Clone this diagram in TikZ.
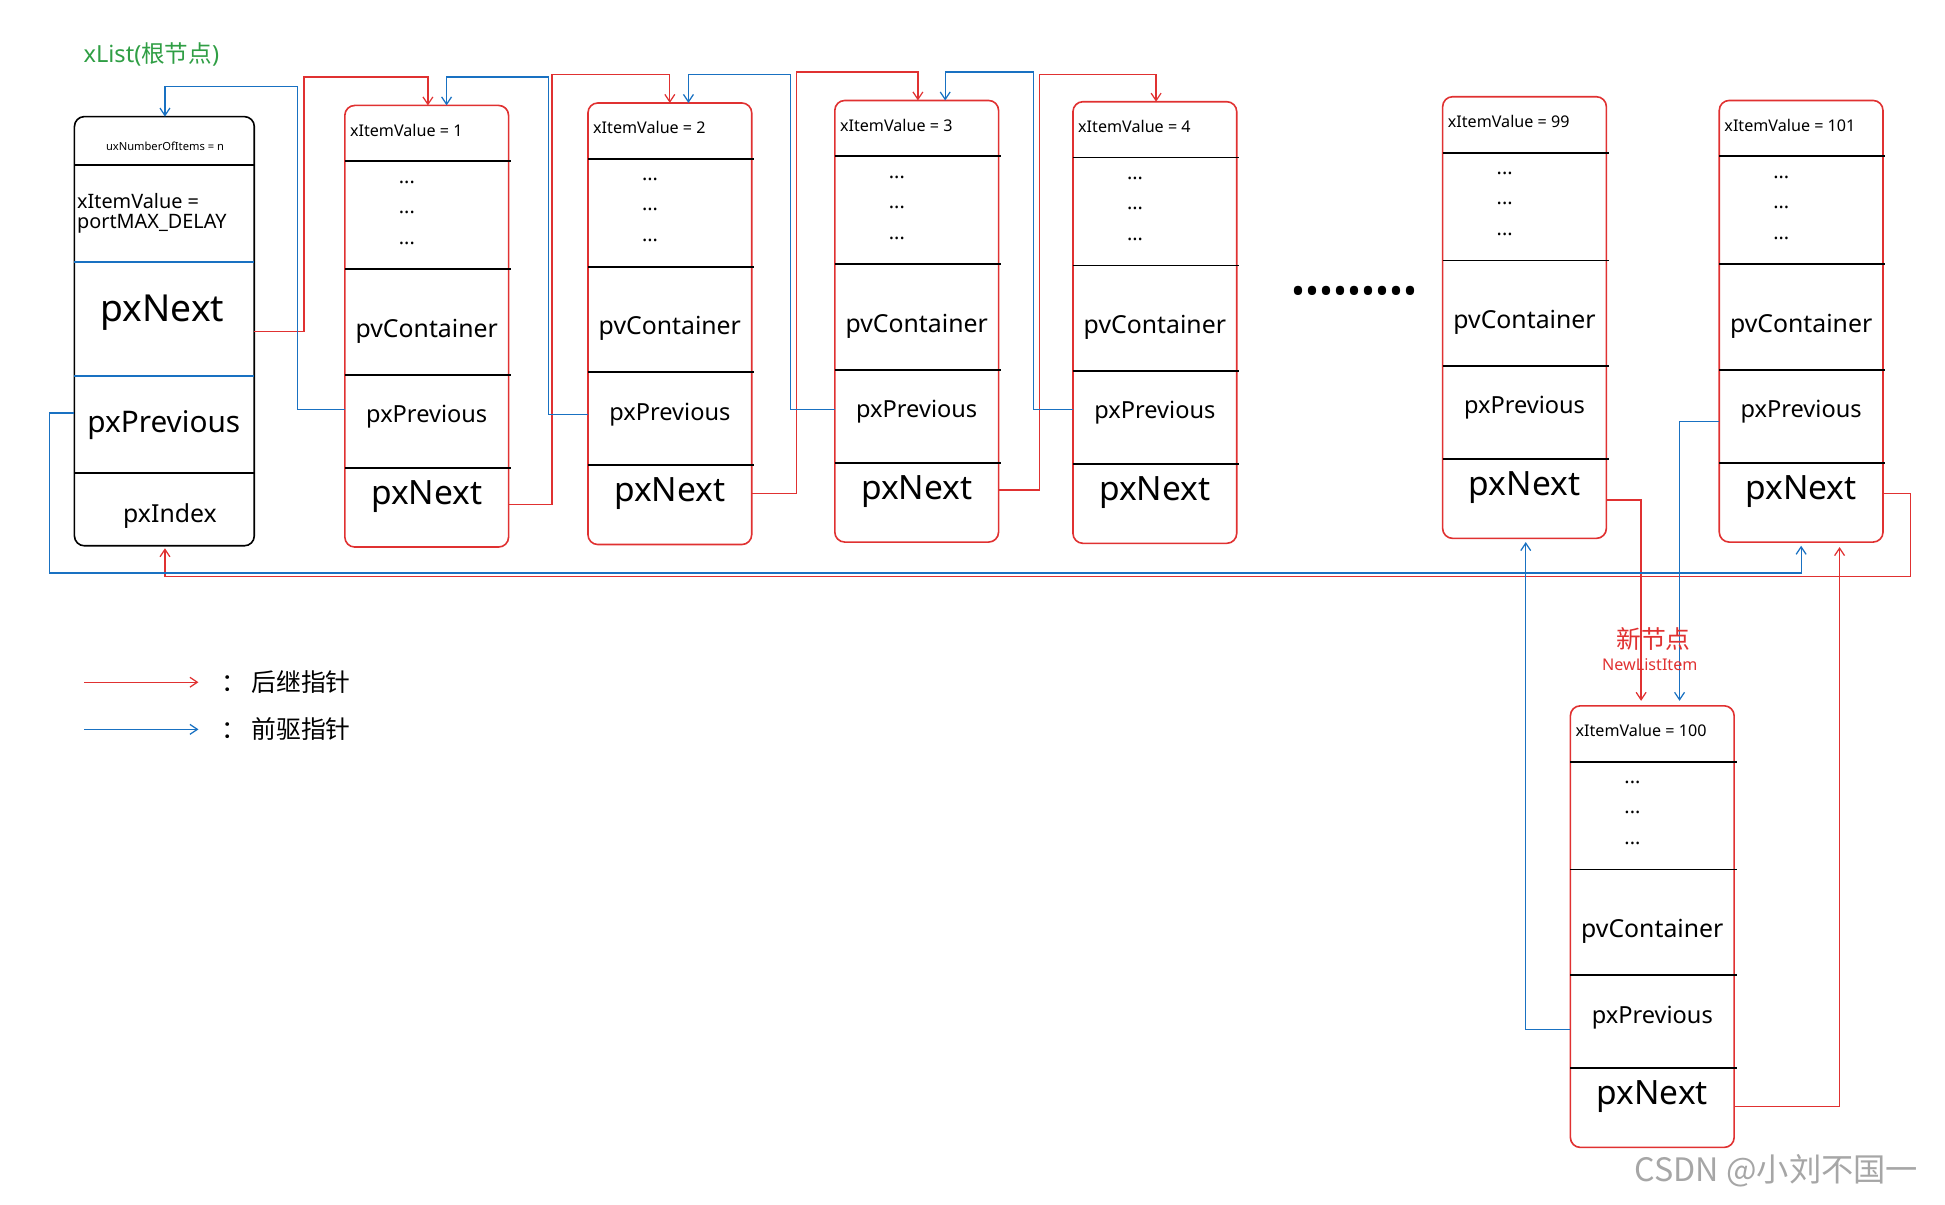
\documentclass[tikz,border=0pt]{standalone}
\usepackage{fontspec}
\setmainfont{Noto Sans}
\newfontfamily\cjk{Noto Sans CJK SC}
\definecolor{rd}{HTML}{E03131}
\definecolor{bl}{HTML}{1971C2}
\definecolor{gr}{HTML}{2F9E44}
\usetikzlibrary{arrows.meta}
\tikzset{
 box/.style={draw=rd,line width=1.3pt,rounded corners=8pt},
 div/.style={line width=1.5pt,black},
 nx/.style={draw=rd,line width=1pt,-{Straight Barb[length=6pt,width=8pt]}},
 pv/.style={draw=bl,line width=1pt,-{Straight Barb[length=6pt,width=8pt]}},
 t/.style={inner sep=0pt,font=\fontsize{#1}{#1}\selectfont},
}
\newcommand{\itembox}[4]{%
 \draw[box] (#2,#3) rectangle ++(132,356);
 \foreach \d in {45,132,217,292}{\draw[div] (#2,#3+\d) -- ++(134,0);}
 \node[t=13,anchor=west] (#1v) at (#2+4,#3+20) {xItemValue = #4};
 \foreach \d in {62,86,111}{\node[t=16] at (#2+50,#3+\d) {\textbf{...}};}
 \node[t=20] (#1c) at (#2+66,#3+182) {pvContainer};
 \node[t=19] (#1p) at (#2+66,#3+251) {pxPrevious};
 \node[t=27] (#1n) at (#2+66,#3+315) {pxNext};
}
\begin{document}
\begin{tikzpicture}[x=1pt,y=-1pt]
\useasboundingbox (0,0) rectangle (1568,971);
% root
\draw[line width=1.3pt,rounded corners=8pt] (60,94) rectangle (205,440);
\draw[div] (60,133)--(205,133); \draw[bl,line width=1.5pt] (60,211)--(205,211);
\draw[bl,line width=1.5pt] (60,303)--(205,303); \draw[div] (60,381)--(205,381);
\node[t=9] (ru) at (133,118) {uxNumberOfItems = n};
\node[t=16,align=left,anchor=west] (rv) at (62,172) {xItemValue =\\portMAX\_DELAY};
\node[t=30] (rn) at (131,252) {pxNext};
\node[t=24] (rp) at (132,343) {pxPrevious};
\node[t=20] (ri) at (137,416) {pxIndex};
\node[t=19,text=gr] (xl) at (122,44) {xList({\cjk 根节点})};
\itembox{a}{278}{85}{1}
\itembox{b}{474}{83}{2}
\itembox{c}{673}{81}{3}
\itembox{d}{865}{82}{4}
\itembox{e}{1163}{78}{99}
\itembox{f}{1386}{81}{101}
\itembox{g}{1266}{569}{100}
\node[t=30] (dots) at (1092,238) {\textbf{•••••••••}};
% next pointers
\draw[nx] (205,267) -| (245,62) -| (345,85);
\draw[nx] (410,407) -| (445,60) -| (540,83);
\draw[nx] (606,398) -| (642,58) -| (740,81);
\draw[nx] (805,395) -| (838,60) -| (932,82);
\draw[nx] (1295,403) -| (1323,565);
\draw[nx] (1398,892) -| (1483,441);
\draw[nx] (1518,398) -| (1540,465) -| (133,442);
% prev pointers
\draw[pv] (278,330) -| (240,70) -| (133,94);
\draw[pv] (474,334) -| (442,62) -| (360,85);
\draw[pv] (673,330) -| (637,60) -| (555,83);
\draw[pv] (865,330) -| (833,58) -| (762,81);
\draw[pv] (1386,340) -| (1354,565);
\draw[pv] (1266,830) -| (1230,437);
\draw[pv] (60,333) -| (40,462) -| (1452,440);
\node[t=20,text=rd] (nn) at (1333,515) {\cjk 新节点};
\node[t=13,text=rd] (nl) at (1330,536) {NewListItem};
% legend
\coordinate (l1a) at (68,550); \coordinate (l1b) at (160,550);
\coordinate (l2a) at (68,588); \coordinate (l2b) at (160,588);
\draw[nx] (l1a)--(l1b); \draw[pv] (l2a)--(l2b);
\node[t=20,anchor=west] (lg1) at (178,550) {\cjk ： 后继指针};
\node[t=20,anchor=west] (lg2) at (178,588) {\cjk ： 前驱指针};
\node[t=26,text=black!35] (wm) at (1432,944) {\cjk CSDN @小刘不国一};
\end{tikzpicture}
\end{document}
